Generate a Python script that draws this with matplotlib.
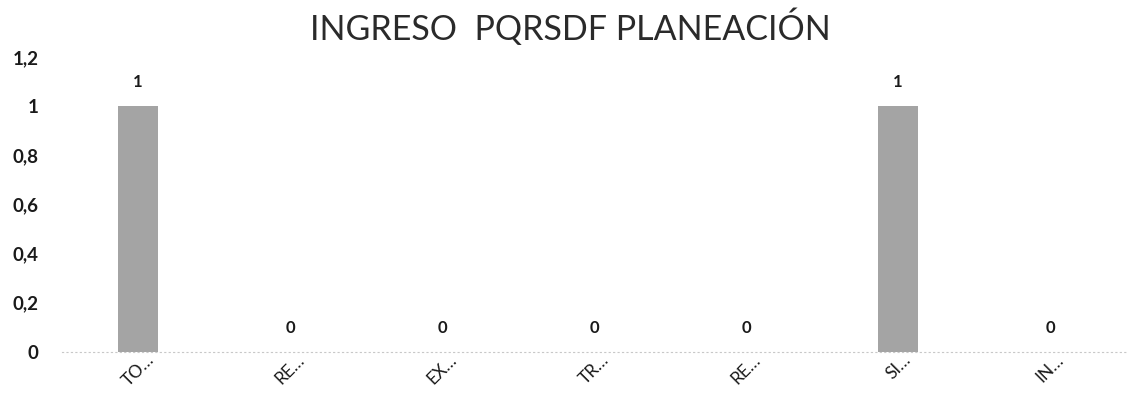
import matplotlib.pyplot as plt

categories = ['TO...', 'RE...', 'EX...', 'TR...', 'RE...', 'SI...', 'IN...']
tick_labels = ['TO…', 'RE…', 'EX…', 'TR…', 'RE…', 'SI…', 'IN…']
values = [1, 0, 0, 0, 0, 1, 0]
y_ticks = [0, 0.2, 0.4, 0.6, 0.8, 1, 1.2]
y_tick_labels = ['0', '0,2', '0,4', '0,6', '0,8', '1', '1,2']

plt.rcParams['font.family'] = ['Lato', 'DejaVu Sans']

fig = plt.figure(figsize=(11.48, 4.04), dpi=100)
ax = fig.add_axes([0.054, 0.129, 0.927, 0.730])

x = list(range(len(values)))
bars = ax.bar(x, values, width=0.265, color='#a4a4a4', zorder=2)

for rect, v in zip(bars, values):
    ax.annotate(str(v), (rect.get_x() + rect.get_width() / 2, v),
                xytext=(0, 24), textcoords='offset pixels',
                ha='center', va='center', fontsize=12, fontweight='bold',
                color='#1a1a1a')

ax.set_xlim(-0.5, len(values) - 0.5)
ax.set_ylim(0, 1.2)
ax.set_yticks(y_ticks)
ax.set_yticklabels(y_tick_labels, fontsize=13.5, fontweight='bold', color='#1a1a1a')
ax.set_xticks(x)
ax.set_xticklabels(tick_labels, rotation=45, ha='center', va='top',
                   fontsize=12.5, color='#1a1a1a')
ax.tick_params(axis='y', length=0, pad=17)
ax.tick_params(axis='x', length=0, pad=0)

for side in ['left', 'right', 'top']:
    ax.spines[side].set_visible(False)
ax.spines['bottom'].set_color('#c8c8c8')
ax.spines['bottom'].set_linestyle((0, (1, 3)))

fig.text(0.497, 0.933, 'INGRESO  PQRSDF PLANEACIÓN', ha='center', va='center',
         fontsize=24.5, fontweight='normal', color='#2a2a2a')

fig.savefig('out.png', dpi=100)
